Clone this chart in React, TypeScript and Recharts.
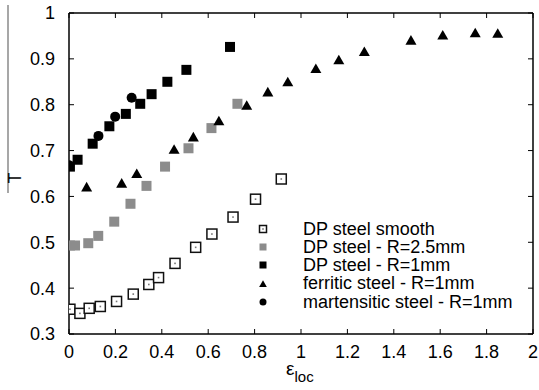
import React from 'react'
import { ScatterChart, Scatter, XAxis, YAxis, Legend, CartesianGrid, ReferenceLine } from 'recharts'

// strain at fracture (x) vs T (y)
const smoothX = [0.004, 0.047, 0.087, 0.135, 0.205, 0.277, 0.344, 0.386, 0.457, 0.546, 0.616, 0.707, 0.804, 0.915]
const smoothY = [0.354, 0.345, 0.356, 0.36, 0.371, 0.387, 0.408, 0.423, 0.454, 0.489, 0.518, 0.555, 0.594, 0.638]

const r25X = [0.004, 0.026, 0.083, 0.126, 0.195, 0.265, 0.334, 0.414, 0.515, 0.614, 0.726]
const r25Y = [0.493, 0.493, 0.498, 0.514, 0.545, 0.584, 0.623, 0.665, 0.705, 0.749, 0.802]

const r1X = [0.004, 0.037, 0.102, 0.174, 0.245, 0.307, 0.356, 0.424, 0.506, 0.694]
const r1Y = [0.665, 0.68, 0.715, 0.753, 0.78, 0.802, 0.823, 0.85, 0.876, 0.926]

const ferX = [0.076, 0.227, 0.292, 0.453, 0.536, 0.646, 0.766, 0.857, 0.943, 1.064, 1.163, 1.273, 1.474, 1.611, 1.751, 1.848]
const ferY = [0.62, 0.628, 0.649, 0.702, 0.729, 0.764, 0.798, 0.827, 0.849, 0.878, 0.897, 0.915, 0.94, 0.951, 0.956, 0.955]

const marX = [0.0, 0.127, 0.199, 0.27]
const marY = [0.668, 0.732, 0.774, 0.815]

const xTicks = [0, 0.2, 0.4, 0.6, 0.8, 1, 1.2, 1.4, 1.6, 1.8, 2]
const yTicks = [0.3, 0.4, 0.5, 0.6, 0.7, 0.8, 0.9, 1]

const seriesNames = [
  'DP steel smooth',
  'DP steel - R=2.5mm',
  'DP steel - R=1mm',
  'ferritic steel - R=1mm',
  'martensitic steel - R=1mm',
]

const toPoints = (xs: number[], ys: number[]) => xs.map((x, i) => ({ x, y: ys[i] }))

const FONT = '"Liberation Sans", Arial, Helvetica, sans-serif'
const TICK = 5

type Kind = 'open' | 'gray' | 'black' | 'tri' | 'circle'

function Marker({ kind, cx, cy, s }: { kind: Kind; cx: number; cy: number; s: number }) {
  const h = s / 2
  if (kind === 'open') {
    return (
      <g>
        <rect x={cx - h} y={cy - h} width={s} height={s} fill="#fff" stroke="#111" strokeWidth={1.5} />
        <rect x={cx - 0.8} y={cy - 0.8} width={1.6} height={1.6} fill="#777" />
      </g>
    )
  }
  if (kind === 'gray') return <rect x={cx - h} y={cy - h} width={s} height={s} fill="#8c8c8c" />
  if (kind === 'black') return <rect x={cx - h} y={cy - h} width={s} height={s} fill="#000" />
  if (kind === 'tri') {
    const a = s * 0.55
    return <polygon points={`${cx},${cy - a} ${cx + a},${cy + a * 0.75} ${cx - a},${cy + a * 0.75}`} fill="#000" />
  }
  return <circle cx={cx} cy={cy} r={h} fill="#000" />
}

const kinds: Kind[] = ['open', 'gray', 'black', 'tri', 'circle']

const shapeFor = (kind: Kind) => (props: any) => <Marker kind={kind} cx={props.cx} cy={props.cy} s={10} />

function LegendBox() {
  return (
    <div style={{ fontFamily: FONT, fontSize: 18, color: '#000' }}>
      {seriesNames.map((name, i) => (
        <div key={name} style={{ display: 'flex', alignItems: 'center', height: 18.3, lineHeight: '18.3px', whiteSpace: 'nowrap' }}>
          <svg width={16} height={16} style={{ flex: 'none' }}>
            <Marker kind={kinds[i]} cx={8} cy={8} s={7} />
          </svg>
          <span style={{ marginLeft: 32 }}>{name}</span>
        </div>
      ))}
    </div>
  )
}

// inward tick marks on both ends of each grid line (gnuplot style frame)
const hTicks = (p: any) => (
  <g key={`h${p.index}`}>
    <line x1={p.x1} y1={p.y1} x2={p.x1 + TICK} y2={p.y1} stroke="#000" />
    <line x1={p.x2 - TICK} y1={p.y2} x2={p.x2} y2={p.y2} stroke="#000" />
  </g>
)
const vTicks = (p: any) => (
  <g key={`v${p.index}`}>
    <line x1={p.x1} y1={p.y1} x2={p.x1} y2={p.y1 + TICK} stroke="#000" />
    <line x1={p.x2} y1={p.y2 - TICK} x2={p.x2} y2={p.y2} stroke="#000" />
  </g>
)

const YLabel = () => (
  <g>
    <line x1={8} y1={5} x2={8} y2={193} stroke="#8a8a8a" strokeWidth={1.5} />
    <text
      x={15}
      y={178}
      textAnchor="middle"
      dominantBaseline="central"
      transform="rotate(-90, 15, 178)"
      fontFamily={FONT}
      fontSize={18}
      fill="#000"
    >
      T
    </text>
  </g>
)

const XLabel = () => (
  <text x={286} y={375} fontFamily={FONT} fontSize={19} fill="#000">
    ε
    <tspan fontSize={15} dy={7}>loc</tspan>
  </text>
)

const fmt = (v: number) => String(Math.round(v * 10) / 10)

export default function App() {
  const tickStyle = { fontFamily: FONT, fontSize: 18, fill: '#000' }
  const axisLine = { stroke: '#000', strokeWidth: 1.5 }

  return (
    <div style={{ position: 'absolute', left: 0, top: 0, width: 539, height: 390, background: '#fff' }}>
      <ScatterChart width={539} height={390} margin={{ top: 13, right: 6, bottom: 0, left: 9 }}>
        <CartesianGrid xAxisId="b" yAxisId="l" horizontal={hTicks} vertical={vTicks} />
        <XAxis
          xAxisId="b"
          type="number"
          dataKey="x"
          domain={[0, 2]}
          ticks={xTicks}
          tickFormatter={fmt}
          height={56}
          tick={tickStyle}
          tickSize={0}
          tickMargin={11}
          tickLine={false}
          axisLine={axisLine}
          label={<XLabel />}
          allowDataOverflow
        />
        <YAxis
          yAxisId="l"
          type="number"
          dataKey="y"
          domain={[0.3, 1]}
          ticks={yTicks}
          tickFormatter={fmt}
          width={60}
          tick={tickStyle}
          tickSize={0}
          tickMargin={14}
          tickLine={false}
          axisLine={axisLine}
          label={<YLabel />}
          allowDataOverflow
        />
        <ReferenceLine xAxisId="b" yAxisId="l" y={1} stroke="#000" strokeWidth={1.5} />
        <ReferenceLine xAxisId="b" yAxisId="l" x={2} stroke="#000" strokeWidth={1.5} />
        <Legend
          layout="horizontal"
          verticalAlign="middle"
          align="center"
          content={<LegendBox />}
          wrapperStyle={{ position: 'absolute', left: 255, top: 219.5, width: 280 }}
        />
        <Scatter xAxisId="b" yAxisId="l" name={seriesNames[0]} data={toPoints(smoothX, smoothY)} shape={shapeFor('open')} isAnimationActive={false} />
        <Scatter xAxisId="b" yAxisId="l" name={seriesNames[1]} data={toPoints(r25X, r25Y)} shape={shapeFor('gray')} isAnimationActive={false} />
        <Scatter xAxisId="b" yAxisId="l" name={seriesNames[3]} data={toPoints(ferX, ferY)} shape={shapeFor('tri')} isAnimationActive={false} />
        <Scatter xAxisId="b" yAxisId="l" name={seriesNames[4]} data={toPoints(marX, marY)} shape={shapeFor('circle')} isAnimationActive={false} />
        <Scatter xAxisId="b" yAxisId="l" name={seriesNames[2]} data={toPoints(r1X, r1Y)} shape={shapeFor('black')} isAnimationActive={false} />
      </ScatterChart>
    </div>
  )
}
